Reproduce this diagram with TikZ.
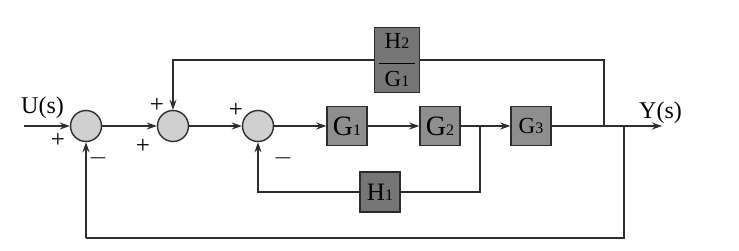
\documentclass[tikz,border=0pt]{standalone}
\usepackage{fontspec}
\setmainfont{Liberation Serif}
\usepackage{tikz}
\usetikzlibrary{positioning,arrows.meta,calc}
\definecolor{ink}{RGB}{45,45,45}
\definecolor{sumgray}{RGB}{208,208,208}
\definecolor{blkgray}{RGB}{142,142,142}
\definecolor{fbgray}{RGB}{118,118,118}
\tikzset{
  sumnode/.style={draw=ink, circle, fill=sumgray, minimum size=31pt, inner sep=0pt, line width=1.4pt},
  blk/.style={draw=ink, fill=#1, minimum width=40pt, minimum height=39pt, inner sep=0pt, align=center, line width=1.4pt},
  blk/.default={blkgray},
  arrow/.style={-{Stealth[length=10pt,width=7pt]}, line width=1.3pt, draw=ink},
  wire/.style={line width=1.3pt, draw=ink},
  sgn/.style={font=\fontsize{25}{25}\selectfont, inner sep=0pt},
  sig/.style={font=\fontsize{24}{24}\selectfont, inner sep=0pt}
}
\newcommand{\bsub}[2]{#1{\fontsize{16}{16}\selectfont #2}}
\begin{document}
\begin{tikzpicture}[x=1pt,y=1pt]
  \useasboundingbox (0,0) rectangle (739,250);
  % summing junctions
  \node[sumnode] (s1) at (86,124) {};
  \node[sumnode] (s2) at (173,124) {};
  \node[sumnode] (s3) at (258,124) {};
  % forward blocks
  \node[blk, font=\fontsize{28}{28}\selectfont] (g1) at (347,124) {\bsub{G}{1}};
  \node[blk, font=\fontsize{28}{28}\selectfont] (g2) at (440,124) {\bsub{G}{2}};
  \node[blk, font=\fontsize{23}{23}\selectfont] (g3) at (531,124) {\bsub{G}{3}};
  % feedback blocks
  \node[blk=fbgray, minimum width=45pt, minimum height=65pt, font=\fontsize{23}{23}\selectfont] (h2) at (397,190)
    {\bsub{H}{2}\\[-7pt]\rule{36pt}{1.3pt}\\[-1pt]\bsub{G}{1}};
  \node[blk=fbgray, minimum height=40pt, font=\fontsize{25}{25}\selectfont] (h1) at (380,58) {\bsub{H}{1}};
  % signals
  \coordinate (in) at (24,124);
  \coordinate (out) at (662,124);
  \coordinate (b1) at (480,124);
  \coordinate (b2) at (604,124);
  \coordinate (b3) at (624,124);
  \coordinate (bot) at (86,12);
  \node[sig, anchor=south west] (u) at (21,131) {U(s)};
  \node[sig, anchor=south west] (y) at (639,126) {Y(s)};
  % signs
  \node[sgn] (p1) at (58,110) {+};
  \node[sgn] (m1) at (98,92) {$-$};
  \node[sgn] (p2a) at (157,145) {+};
  \node[sgn] (p2b) at (143,104) {+};
  \node[sgn] (p3) at (236,140) {+};
  \node[sgn] (m3) at (283,92) {$-$};
  % forward path
  \draw[arrow] (in) -- (s1);
  \draw[arrow] (s1) -- (s2);
  \draw[arrow] (s2) -- (s3);
  \draw[arrow] (s3) -- (g1);
  \draw[arrow] (g1) -- (g2);
  \draw[arrow] (g2) -- (g3);
  \draw[arrow] (g3) -- (out);
  % loops
  \draw[wire] (b1) |- (h1.east);
  \draw[arrow] (h1.west) -| (s3.south);
  \draw[wire] (b2) |- (h2.east);
  \draw[arrow] (h2.west) -| (s2.north);
  \draw[wire] (b3) |- (bot);
  \draw[arrow] (bot) -- (s1.south);
\end{tikzpicture}
\end{document}
